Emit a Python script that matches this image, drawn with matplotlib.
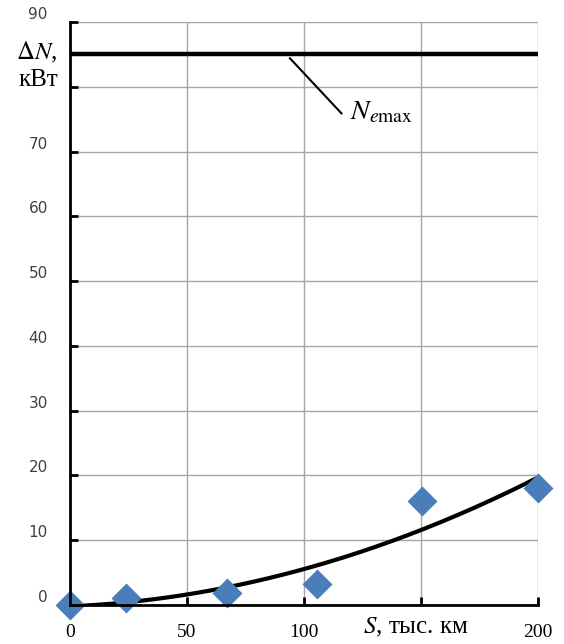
import numpy as np
import matplotlib
matplotlib.use("Agg")
import matplotlib.pyplot as plt

# measured points: mileage (thousand km) vs power loss (kW)
mileage = [0, 24, 67, 105.6, 150.4, 200]
power_loss = [0, 1.1, 1.85, 3.25, 16.1, 18.05]
ne_max = 85
x_ticks = [0, 50, 100, 150, 200]
y_ticks = [0, 10, 20, 30, 40, 50, 60, 70, 80, 90]

plt.rcParams['mathtext.fontset'] = 'stix'

fig = plt.figure(figsize=(5.64, 6.44), dpi=100)
ax = fig.add_axes([0.1241, 0.0606, 0.8298, 0.9052])

# polynomial trendline (2nd order) fitted to the points
coef = np.polyfit(mileage, power_loss, 2)
xs = np.linspace(0, 200, 200)
ax.plot(xs, np.polyval(coef, xs), color='black', lw=3.0, zorder=3, solid_capstyle='butt')

ax.plot(mileage, power_loss, 'D', color='#4a7ebb', ms=15, mec='none', zorder=4, clip_on=False)

ax.plot([0, 200], [ne_max, ne_max], color='black', lw=3.2, zorder=3)

ax.set_xlim(0, 200)
ax.set_ylim(0, 90)
ax.set_xticks(x_ticks)
ax.set_yticks(y_ticks)
ax.grid(True, color='#a6a6a6', lw=1.0)
ax.set_axisbelow(True)

for s in ['top', 'right']:
    ax.spines[s].set_visible(False)
for s in ['left', 'bottom']:
    ax.spines[s].set_linewidth(2)
    ax.spines[s].set_zorder(5)

ax.tick_params(direction='in', length=6, width=2, color='black')
ax.tick_params(axis='y', labelsize=11, labelcolor='#404040', pad=16)
ax.tick_params(axis='x', labelsize=14, pad=14)

ylabels = [str(v) for v in y_ticks]
ylabels[8] = ''
ax.set_yticklabels(ylabels, family='DejaVu Sans')
xlabels = [str(v) for v in x_ticks]
xlabels[3] = ''
ax.set_xticklabels(xlabels, family='Liberation Serif')
for t in ax.get_yticklabels():
    t.set_verticalalignment('bottom')

ax.text(-0.026, 83.3, r'$\Delta N$,' + '\nкВт', transform=ax.get_yaxis_transform(),
        ha='right', va='center', fontsize=18, family='Liberation Serif', linespacing=1.25)
ax.text(148, -3.5, r'$S$, тыс. км', ha='center', va='center', fontsize=18,
        family='Liberation Serif', clip_on=False)

ax.plot([94, 116], [84.4, 75.9], color='black', lw=1.5, zorder=3)
ax.text(119.5, 76.2, r'$N_{e\mathrm{max}}$', fontsize=20, ha='left', va='center')

fig.savefig('out.png', dpi=100)
